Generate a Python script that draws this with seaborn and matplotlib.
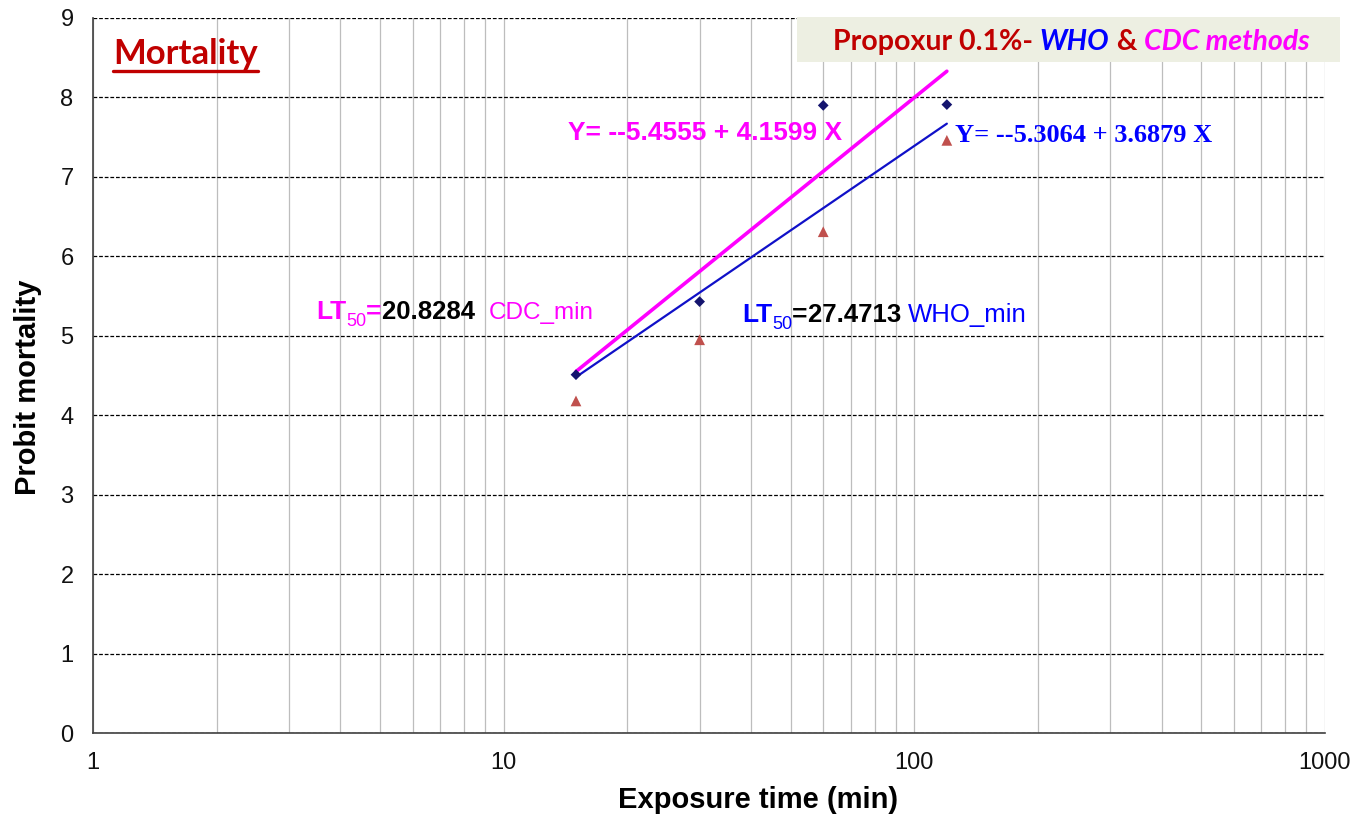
import matplotlib
matplotlib.use("Agg")
import matplotlib.pyplot as plt
import matplotlib.patches as patches
from matplotlib.lines import Line2D
from matplotlib.text import Annotation
from matplotlib.ticker import LogLocator, FixedLocator, FixedFormatter, NullFormatter
import pandas as pd
import seaborn as sns

# Data

exposure_min = [15, 30, 60, 120]
who_probit = [4.51, 5.43, 7.90, 7.91]
cdc_probit = [4.18, 4.95, 6.31, 7.46]

fit_min = [15, 120]
who_fit = [4.48, 7.67]
cdc_fit = [4.55, 8.33]

x_ticks = [1, 10, 100, 1000]
x_tick_labels = ["1", "10", "100", "1000"]
y_ticks = list(range(0, 10))

W, H = 1357, 818


def fx(x):
    return x / W


def fy(y):
    return 1 - y / H


sns.set_style("white")
plt.rcParams["font.family"] = ["Liberation Sans", "DejaVu Sans"]

fig = plt.figure(figsize=(W / 100, H / 100), dpi=100)
ax = fig.add_axes([fx(93), fy(733), fx(1325) - fx(93), fy(18) - fy(733)])
ax.set_xscale("log")

pts = pd.DataFrame({
    "time": exposure_min * 2,
    "probit": who_probit + cdc_probit,
    "method": ["WHO"] * 4 + ["CDC"] * 4,
})
fits = pd.DataFrame({
    "time": fit_min * 2,
    "probit": who_fit + cdc_fit,
    "method": ["WHO"] * 2 + ["CDC"] * 2,
})

# Regression lines
sns.lineplot(data=fits[fits.method == "CDC"], x="time", y="probit",
             color="#FF00FF", lw=2.6, ax=ax, zorder=3)
sns.lineplot(data=fits[fits.method == "WHO"], x="time", y="probit",
             color="#1010C8", lw=1.6, ax=ax, zorder=4)

# Observed points
sns.scatterplot(data=pts[pts.method == "WHO"], x="time", y="probit",
                marker="D", s=30, color="#14146E", edgecolor="none", ax=ax, zorder=5)
sns.scatterplot(data=pts[pts.method == "CDC"], x="time", y="probit",
                marker="^", s=60, color="#C0504D", edgecolor="none", ax=ax, zorder=5)

ax.set_xlim(1, 1000)
ax.set_ylim(0, 9)

ax.xaxis.set_major_locator(FixedLocator(x_ticks))
ax.xaxis.set_major_formatter(FixedFormatter(x_tick_labels))
ax.xaxis.set_minor_locator(LogLocator(base=10, subs=range(2, 10)))
ax.xaxis.set_minor_formatter(NullFormatter())
ax.yaxis.set_major_locator(FixedLocator(y_ticks))

ax.set_axisbelow(True)
ax.xaxis.grid(True, which="both", color="#BDBDBD", lw=0.9)
ax.yaxis.grid(True, which="major", color="black", lw=0.9, ls=(0, (3, 1.5)))

for side in ["top", "right"]:
    ax.spines[side].set_visible(False)
for side in ["left", "bottom"]:
    ax.spines[side].set_color("#404040")
    ax.spines[side].set_linewidth(1.2)

ax.tick_params(axis="both", which="major", direction="out", length=6, width=1.1,
               color="#404040", labelsize=17, labelcolor="#111111", pad=8)
ax.tick_params(axis="x", which="minor", length=0)

ax.set_xlabel("Exposure time (min)", fontsize=21, fontweight="bold", color="black")
ax.xaxis.set_label_coords((758 - 93) / 1232, -0.074)
ax.set_ylabel("Probit mortality", fontsize=21, fontweight="bold", color="black")
ax.yaxis.set_label_coords(-0.041, 0.483)


def chain(x, y, parts):
    # write pieces of text one after another on one baseline
    s0, c0, fs0, dy0, kw0 = parts[0]
    first = fig.text(fx(x), fy(y), s0, color=c0, fontsize=fs0, va="baseline",
                     zorder=6, **kw0)
    last = first
    for s, c, fs, dy, kw in parts[1:]:
        last = Annotation(s, xy=(1, 0), xycoords=(last, first),
                          xytext=(0, dy), textcoords="offset points",
                          va="bottom", ha="left", color=c, fontsize=fs,
                          annotation_clip=False, zorder=6, **kw)
        fig.add_artist(last)
    return first


calibri = ["Lato", "DejaVu Sans"]
b = {"fontweight": "bold"}

# Title box
fig.patches.append(patches.Rectangle((fx(797), fy(62)), fx(1340) - fx(797), fy(17) - fy(62),
                                     transform=fig.transFigure, facecolor="#EDEFE2",
                                     edgecolor="none", zorder=2))
chain(833, 50, [
    ("Propoxur 0.1%- ", "#C00000", 20.5, 0, {"fontweight": "bold", "family": calibri}),
    ("WHO", "#0000FF", 20.5, 0, {"fontweight": "bold", "style": "italic", "family": calibri}),
    (" & ", "#C00000", 20.5, 0, {"fontweight": "bold", "family": calibri}),
    ("CDC methods", "#FF00FF", 20.5, 0, {"fontweight": "bold", "style": "italic", "family": calibri}),
])

# Mortality label with underline
mort = fig.text(fx(113), fy(64), "Mortality", color="#C00000", fontsize=25,
                fontweight="bold", family=calibri, va="baseline")

# Equations
chain(568, 140, [("Y= --5.4555 + 4.1599 X", "#FF00FF", 19, 0, b)])
chain(955, 142, [("Y= --5.3064 + 3.6879 X", "#0000FF", 19, 0,
                  {"fontweight": "bold", "family": ["Liberation Serif", "DejaVu Serif"]})])

# LT50 values
chain(316, 319, [
    ("LT", "#FF00FF", 19, 0, b),
    ("50", "#FF00FF", 13, -4, {}),
    ("=", "#FF00FF", 19, 0, b),
    ("20.8284  ", "black", 18.5, 0, b),
    ("CDC_min", "#FF00FF", 17.5, 0, {}),
])
chain(742, 322, [
    ("LT", "#0000FF", 19, 0, b),
    ("50", "#0000FF", 13, -4, {}),
    ("=", "black", 19, 0, b),
    ("27.4713 ", "black", 18.5, 0, b),
    ("WHO_min", "#0000FF", 18.5, 0, {}),
])

fig.canvas.draw()
r = fig.canvas.get_renderer()
bb = mort.get_window_extent(r)
fig.add_artist(Line2D([bb.x0 / W, bb.x1 / W], [fy(71), fy(71)],
                      color="#C00000", lw=2.4, transform=fig.transFigure))

fig.savefig("out.png", dpi=100)
